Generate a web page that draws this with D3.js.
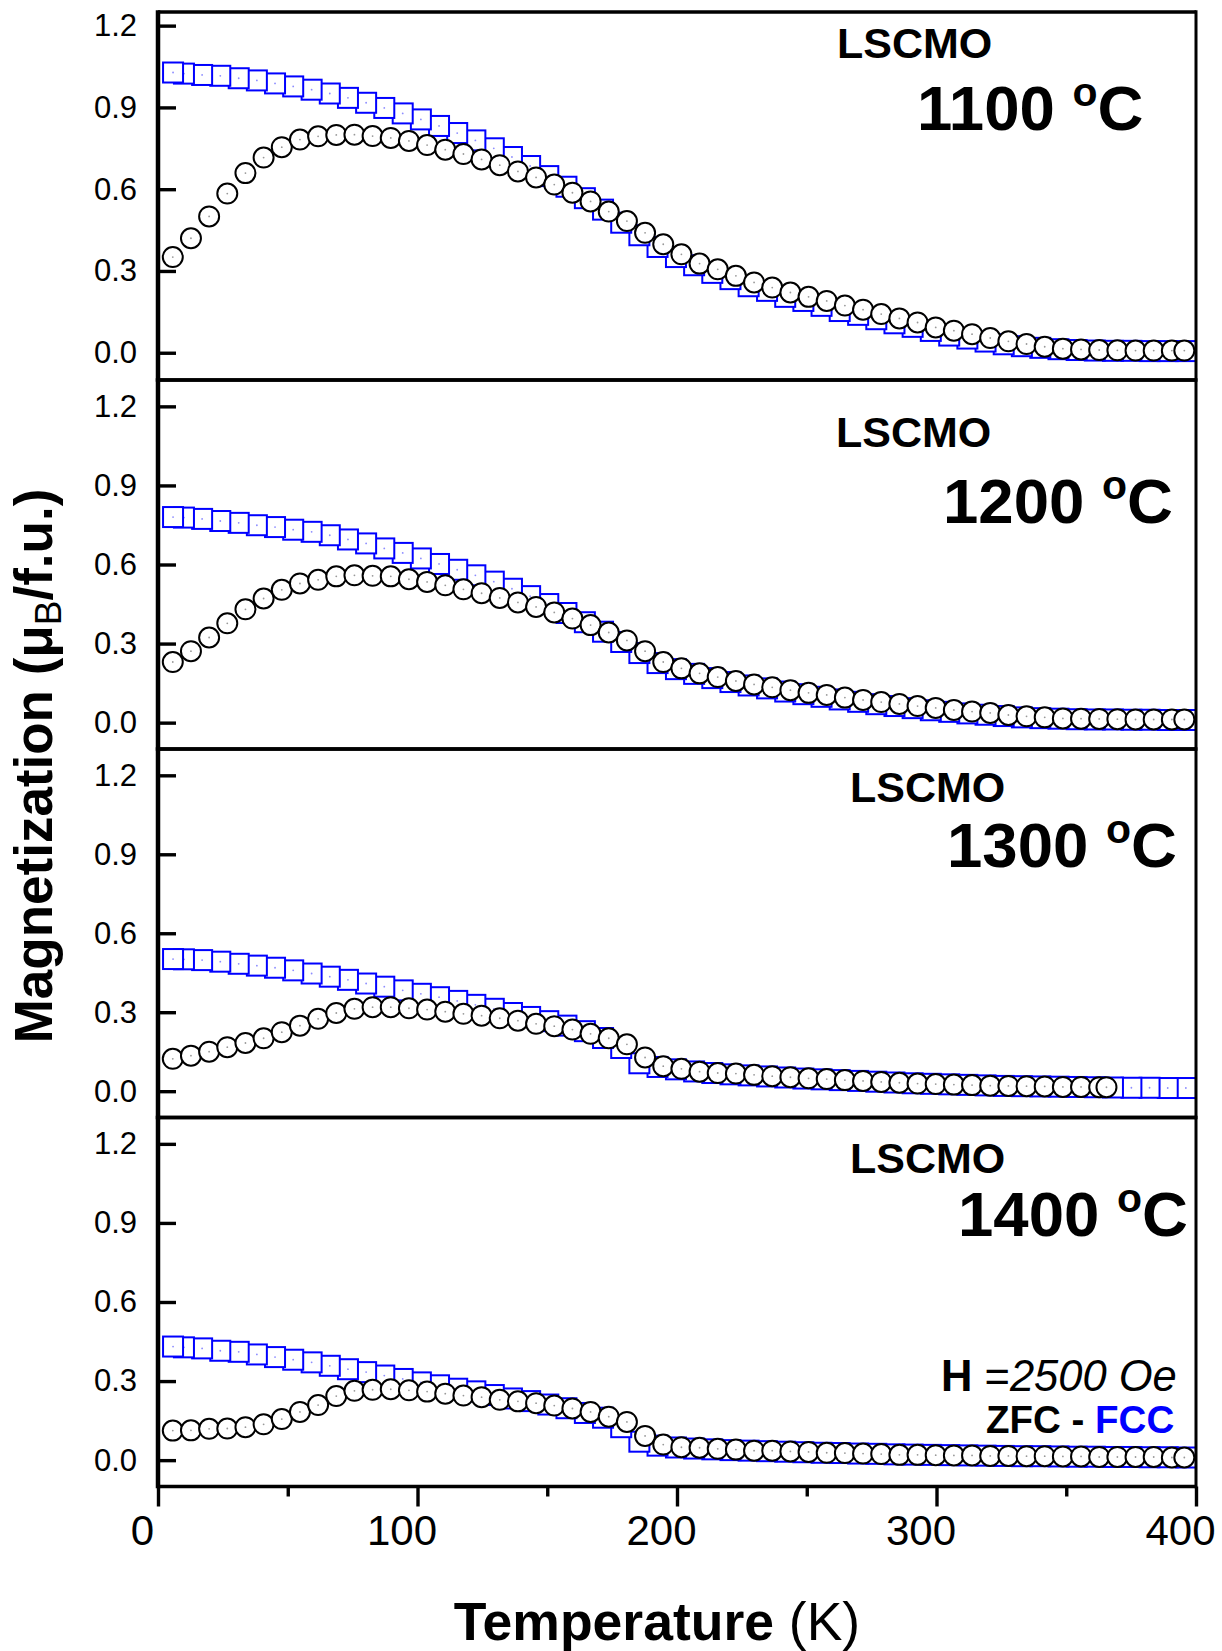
<!DOCTYPE html>
<html>
<head>
<meta charset="utf-8">
<script src="https://cdn.jsdelivr.net/npm/d3@7"></script>
<style>
  html, body { margin: 0; padding: 0; background: #fff; }
  svg { display: block; }
</style>
</head>
<body>
<svg id="chart" width="1222" height="1651"></svg>
<script>
// ---- Temperature grids (K) ----
const tZFC = [5.7, 12.7, 19.7, 26.7, 33.7, 40.7, 47.7, 54.7, 61.7, 68.7, 75.7, 82.7, 89.7, 96.7,
  103.7, 110.7, 117.7, 124.7, 131.7, 138.7, 145.7, 152.7, 159.7, 166.7, 173.7, 180.7, 187.7, 194.7,
  201.7, 208.7, 215.7, 222.7, 229.7, 236.7, 243.7, 250.7, 257.7, 264.7, 271.7, 278.7, 285.7, 292.7,
  299.7, 306.7, 313.7, 320.7, 327.7, 334.7, 341.7, 348.7, 355.7, 362.7, 369.7, 376.7, 383.7, 390.7, 395.5];

const tZFC1300 = [5.7, 12.7, 19.7, 26.7, 33.7, 40.7, 47.7, 54.7, 61.7, 68.7, 75.7, 82.7, 89.7, 96.7,
  103.7, 110.7, 117.7, 124.7, 131.7, 138.7, 145.7, 152.7, 159.7, 166.7, 173.7, 180.7, 187.7, 194.7,
  201.7, 208.7, 215.7, 222.7, 229.7, 236.7, 243.7, 250.7, 257.7, 264.7, 271.7, 278.7, 285.7, 292.7,
  299.7, 306.7, 313.7, 320.7, 327.7, 334.7, 341.7, 348.7, 355.7, 362.7, 365.5];

const tFCC = [5.8, 10.0, 17.0, 24.0, 31.1, 38.1, 45.1, 52.1, 59.2, 66.2, 73.2, 80.2, 87.2, 94.3,
  101.3, 108.3, 115.3, 122.3, 129.4, 136.4, 143.4, 150.4, 157.4, 164.5, 171.5, 178.5, 185.5, 192.5,
  199.6, 206.6, 213.6, 220.6, 227.6, 234.7, 241.7, 248.7, 255.7, 262.7, 269.8, 276.8, 283.8, 290.8,
  297.8, 304.9, 311.9, 318.9, 325.9, 332.9, 340.0, 347.0, 354.0, 361.0, 368.0, 375.1, 382.1, 389.1, 396.1];

// ---- Magnetization (muB/f.u.) ----
const zfc1100 = [0.351, 0.420, 0.500, 0.584, 0.659, 0.716, 0.754, 0.782, 0.794, 0.799, 0.800, 0.795,
  0.788, 0.777, 0.762, 0.745, 0.729, 0.709, 0.688, 0.665, 0.643, 0.617, 0.587, 0.555, 0.518, 0.483,
  0.440, 0.398, 0.361, 0.327, 0.306, 0.282, 0.258, 0.239, 0.221, 0.205, 0.190, 0.173, 0.158, 0.142,
  0.126, 0.111, 0.093, 0.081, 0.068, 0.054, 0.042, 0.032, 0.022, 0.015, 0.012, 0.010, 0.009, 0.008,
  0.008, 0.008, 0.008];
const fcc1100 = [1.028, 1.024, 1.019, 1.016, 1.007, 0.999, 0.988, 0.977, 0.965, 0.951, 0.935, 0.917,
  0.898, 0.878, 0.856, 0.832, 0.806, 0.779, 0.750, 0.718, 0.685, 0.648, 0.609, 0.567, 0.525, 0.477,
  0.431, 0.388, 0.351, 0.321, 0.293, 0.270, 0.244, 0.227, 0.205, 0.190, 0.172, 0.153, 0.139, 0.123,
  0.108, 0.095, 0.080, 0.063, 0.052, 0.041, 0.031, 0.024, 0.018, 0.013, 0.010, 0.008, 0.007, 0.007,
  0.006, 0.006, 0.006];

const zfc1200 = [0.230, 0.271, 0.323, 0.377, 0.430, 0.471, 0.504, 0.528, 0.542, 0.555, 0.559, 0.557,
  0.555, 0.544, 0.534, 0.521, 0.506, 0.491, 0.473, 0.456, 0.439, 0.418, 0.395, 0.370, 0.342, 0.312,
  0.271, 0.230, 0.206, 0.187, 0.173, 0.158, 0.145, 0.134, 0.123, 0.113, 0.105, 0.095, 0.086, 0.078,
  0.071, 0.063, 0.056, 0.048, 0.042, 0.037, 0.029, 0.024, 0.020, 0.016, 0.015, 0.014, 0.013, 0.012,
  0.012, 0.012, 0.012];
const fcc1200 = [0.780, 0.778, 0.773, 0.765, 0.758, 0.749, 0.742, 0.732, 0.724, 0.711, 0.695, 0.680,
  0.661, 0.644, 0.623, 0.602, 0.580, 0.559, 0.535, 0.508, 0.480, 0.450, 0.416, 0.381, 0.345, 0.306,
  0.264, 0.226, 0.203, 0.185, 0.169, 0.154, 0.141, 0.130, 0.118, 0.108, 0.098, 0.088, 0.079, 0.070,
  0.063, 0.055, 0.047, 0.041, 0.035, 0.030, 0.025, 0.020, 0.017, 0.015, 0.013, 0.012, 0.012, 0.011,
  0.011, 0.010, 0.010];

const zfc1300 = [0.123, 0.135, 0.150, 0.167, 0.183, 0.201, 0.224, 0.249, 0.275, 0.297, 0.313, 0.319,
  0.319, 0.315, 0.310, 0.302, 0.294, 0.287, 0.277, 0.268, 0.256, 0.247, 0.234, 0.218, 0.201, 0.178,
  0.128, 0.095, 0.085, 0.074, 0.069, 0.067, 0.062, 0.057, 0.053, 0.049, 0.046, 0.042, 0.039, 0.035,
  0.032, 0.029, 0.027, 0.025, 0.023, 0.021, 0.020, 0.019, 0.018, 0.016, 0.016, 0.015, 0.015];
const fcc1300 = [0.502, 0.501, 0.498, 0.492, 0.484, 0.477, 0.469, 0.459, 0.447, 0.435, 0.423, 0.409,
  0.397, 0.383, 0.370, 0.357, 0.343, 0.328, 0.313, 0.297, 0.282, 0.266, 0.249, 0.228, 0.202, 0.164,
  0.106, 0.092, 0.083, 0.075, 0.069, 0.064, 0.060, 0.056, 0.052, 0.048, 0.045, 0.042, 0.039, 0.036,
  0.033, 0.030, 0.028, 0.026, 0.024, 0.022, 0.020, 0.019, 0.018, 0.017, 0.016, 0.015, 0.014, 0.013,
  0.013, 0.012, 0.012];

const zfc1400 = [0.112, 0.113, 0.119, 0.120, 0.125, 0.136, 0.156, 0.183, 0.209, 0.243, 0.263, 0.267,
  0.269, 0.265, 0.260, 0.252, 0.245, 0.239, 0.229, 0.223, 0.216, 0.207, 0.196, 0.183, 0.165, 0.145,
  0.092, 0.059, 0.049, 0.047, 0.043, 0.040, 0.036, 0.036, 0.033, 0.031, 0.028, 0.027, 0.025, 0.023,
  0.020, 0.020, 0.019, 0.018, 0.018, 0.016, 0.016, 0.015, 0.015, 0.014, 0.014, 0.012, 0.012, 0.012,
  0.012, 0.010, 0.010];
const fcc1400 = [0.431, 0.428, 0.424, 0.415, 0.411, 0.401, 0.391, 0.381, 0.371, 0.358, 0.345, 0.334,
  0.321, 0.308, 0.295, 0.284, 0.271, 0.261, 0.247, 0.234, 0.224, 0.211, 0.197, 0.179, 0.161, 0.125,
  0.070, 0.055, 0.048, 0.044, 0.041, 0.038, 0.036, 0.034, 0.032, 0.030, 0.028, 0.027, 0.025, 0.024,
  0.022, 0.021, 0.020, 0.019, 0.018, 0.017, 0.016, 0.015, 0.015, 0.014, 0.013, 0.013, 0.012, 0.012,
  0.011, 0.011, 0.010];

// ---- Axis ticks and labels ----
const yTicks = [0, 0.3, 0.6, 0.9, 1.2];
const xMajorTicks = [0, 100, 200, 300, 400];
const xMinorTicks = [50, 150, 250, 350];
const sampleName = "LSCMO";
const annealTemps = ["1100", "1200", "1300", "1400"];

// ---- Layout ----
const BLUE = "#0000ff";
const FONT = "'Liberation Sans', Arial, Helvetica, sans-serif";
const X0 = 158, X1 = 1196;

const panels = [
  { name: annealTemps[0], zT: tZFC, z: zfc1100, fT: tFCC, f: fcc1100,
    top: 12, bottom: 380, domain: [-0.1, 1.25],
    lsc: [837, 58], temp: [917, 130] },
  { name: annealTemps[1], zT: tZFC, z: zfc1200, fT: tFCC, f: fcc1200,
    top: 380, bottom: 749, domain: [-0.1, 1.3],
    lsc: [836, 447], temp: [943, 523] },
  { name: annealTemps[2], zT: tZFC1300, z: zfc1300, fT: tFCC, f: fcc1300,
    top: 749, bottom: 1117.5, domain: [-0.1, 1.3],
    lsc: [850, 802], temp: [947, 867] },
  { name: annealTemps[3], zT: tZFC, z: zfc1400, fT: tFCC, f: fcc1400,
    top: 1117.5, bottom: 1486.5, domain: [-0.1, 1.3],
    lsc: [850, 1173], temp: [958, 1236] }
];

const svg = d3.select("#chart");
svg.append("rect").attr("width", 1222).attr("height", 1651).attr("fill", "#fff");

const x = d3.scaleLinear().domain([0, 400]).range([X0, X1]);
const SQ = 20;   // square marker edge
const CR = 10;   // circle marker radius

panels.forEach((p, pi) => {
  const y = d3.scaleLinear().domain(p.domain).range([p.bottom, p.top]);
  const g = svg.append("g");

  // FCC squares: cooling run, lowest temperature drawn last
  const fccPts = p.fT.map((t, i) => ({ t, m: p.f[i] })).reverse();
  const gs = g.append("g");
  gs.selectAll("g").data(fccPts).join("g").each(function(d) {
    const s = d3.select(this);
    s.append("rect")
      .attr("x", x(d.t) - SQ / 2).attr("y", y(d.m) - SQ / 2)
      .attr("width", SQ).attr("height", SQ)
      .attr("fill", "#fff").attr("stroke", BLUE).attr("stroke-width", 2);
    s.append("circle").attr("cx", x(d.t)).attr("cy", y(d.m)).attr("r", 0.9)
      .attr("fill", "#8c8cff");
  });

  // ZFC circles: warming run
  const zfcPts = p.zT.map((t, i) => ({ t, m: p.z[i] }));
  const gc = g.append("g");
  gc.selectAll("g").data(zfcPts).join("g").each(function(d) {
    const s = d3.select(this);
    s.append("circle").attr("cx", x(d.t)).attr("cy", y(d.m)).attr("r", CR)
      .attr("fill", "#fff").attr("stroke", "#000").attr("stroke-width", 2);
    s.append("circle").attr("cx", x(d.t)).attr("cy", y(d.m)).attr("r", 0.9)
      .attr("fill", "#999");
  });

  // Frame
  const fr = g.append("g").attr("stroke", "#000");
  fr.append("line").attr("x1", X0).attr("x2", X1).attr("y1", p.top).attr("y2", p.top).attr("stroke-width", 3.5);
  fr.append("line").attr("x1", X0).attr("x2", X1).attr("y1", p.bottom).attr("y2", p.bottom).attr("stroke-width", 3.5);
  fr.append("line").attr("x1", X1).attr("x2", X1).attr("y1", p.top - 1.75).attr("y2", p.bottom + 1.75).attr("stroke-width", 3);
  fr.append("line").attr("x1", X0).attr("x2", X0).attr("y1", p.top - 1.75).attr("y2", p.bottom + 1.75).attr("stroke-width", 4.5);

  // Left axis, ticks pointing inward
  const ya = d3.axisLeft(y).tickValues(yTicks).tickFormat(d3.format(".1f"))
    .tickSize(-18).tickPadding(21);
  const ag = g.append("g").attr("transform", `translate(${X0},0)`).call(ya);
  ag.select(".domain").remove();
  ag.attr("font-family", FONT).attr("font-size", 31);
  ag.selectAll(".tick line").attr("stroke", "#000").attr("stroke-width", 3.4);
  ag.selectAll(".tick text").attr("fill", "#000");

  // Panel annotations
  g.append("text").attr("x", p.lsc[0]).attr("y", p.lsc[1])
    .attr("font-family", FONT).attr("font-weight", "bold").attr("font-size", 43)
    .attr("fill", "#000").text(sampleName);
  const tt = g.append("text").attr("x", p.temp[0]).attr("y", p.temp[1])
    .attr("font-family", FONT).attr("font-weight", "bold").attr("font-size", 63.5)
    .attr("fill", "#000");
  tt.append("tspan").text(p.name + " ");
  tt.append("tspan").attr("font-size", 41).attr("dy", -24).text("o");
  tt.append("tspan").attr("dy", 24).text("C");

  if (pi === panels.length - 1) {
    // Bottom axis with major and minor ticks pointing outward
    const xa = d3.axisBottom(x).tickValues(xMajorTicks).tickFormat(d3.format("d"))
      .tickSize(20).tickPadding(9);
    const xg = g.append("g").attr("transform", `translate(0,${p.bottom})`).call(xa);
    xg.select(".domain").remove();
    xg.attr("font-family", FONT).attr("font-size", 42);
    xg.selectAll(".tick line").attr("stroke", "#000").attr("stroke-width", 3.4);
    xg.selectAll(".tick text").attr("fill", "#000").attr("dx", -16);
    const xm = d3.axisBottom(x).tickValues(xMinorTicks).tickFormat("").tickSize(10);
    const xmg = g.append("g").attr("transform", `translate(0,${p.bottom})`).call(xm);
    xmg.select(".domain").remove();
    xmg.selectAll(".tick line").attr("stroke", "#000").attr("stroke-width", 3.4);

    // Field / protocol note
    const h = g.append("text").attr("x", 941).attr("y", 1391)
      .attr("font-family", FONT).attr("font-size", 43.5).attr("fill", "#000");
    h.append("tspan").attr("font-weight", "bold").text("H");
    h.append("tspan").text(" =");
    h.append("tspan").attr("font-style", "italic").text("2500 Oe");

    const z = g.append("text").attr("x", 986).attr("y", 1433)
      .attr("font-family", FONT).attr("font-size", 38.5).attr("font-weight", "bold");
    z.append("tspan").attr("fill", "#000").text("ZFC - ");
    z.append("tspan").attr("fill", BLUE).text("FCC");
  }
});

// Axis titles
const xt = svg.append("text").attr("x", 657).attr("y", 1640)
  .attr("text-anchor", "middle").attr("font-family", FONT).attr("font-size", 53.5).attr("fill", "#000");
xt.append("tspan").attr("font-weight", "bold").text("Temperature");
xt.append("tspan").text(" (K)");

const yt = svg.append("text").attr("transform", "translate(52,766) rotate(-90)")
  .attr("text-anchor", "middle").attr("font-family", FONT).attr("font-size", 53)
  .attr("font-weight", "bold").attr("fill", "#000");
yt.append("tspan").text("Magnetization (\u03bc");
yt.append("tspan").attr("font-size", 37).attr("font-weight", "normal").attr("dy", 9).text("B");
yt.append("tspan").attr("dy", -9).text("/f.u.)");
</script>
</body>
</html>
